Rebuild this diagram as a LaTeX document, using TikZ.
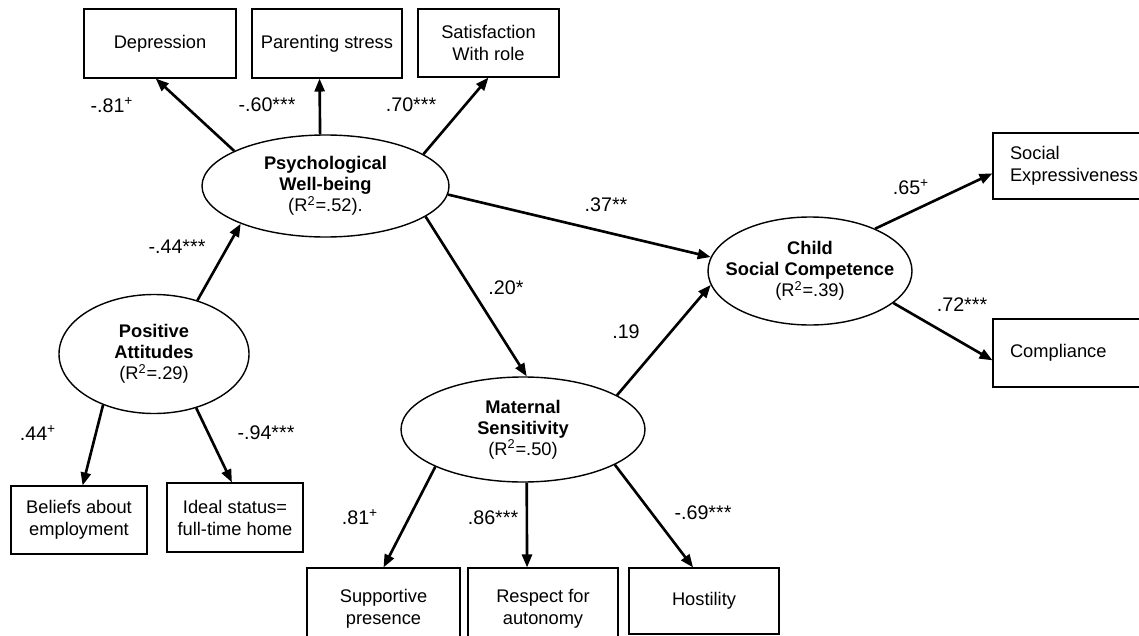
\documentclass[tikz,border=0pt]{standalone}
\usepackage{fontspec}
\setmainfont{Liberation Sans}
\usepackage{tikz}
\usetikzlibrary{shapes.geometric, arrows.meta}

\tikzset{
	indicator/.style={draw, line width=0.6pt, rectangle, align=center, inner sep=0pt, font=\fontsize{10.4}{12.5}\selectfont},
	latent/.style={draw, line width=0.8pt, ellipse, align=center, inner ysep=0pt, inner xsep=-4mm, font=\fontsize{10.4}{12}\selectfont},
	loading/.style={inner sep=0pt, font=\fontsize{11.2}{13}\selectfont},
	effect/.style={line width=1.5pt, -{Triangle[length=2.6mm, width=2mm]}}
}

\begin{document}
\begin{tikzpicture}[x=0.2mm, y=-0.2mm]
	\path[use as bounding box, clip] (0, 0) rectangle (1139, 636);
	% Latent variables:
	\node[latent, minimum width=49.4mm, minimum height=20.4mm] (psy) at (325.5, 186){\textbf{Psychological}\\\textbf{Well-being}\\(R\textsuperscript{2}=.52).};
	\node[latent, minimum width=38mm, minimum height=23.8mm] (pos) at (154, 354){\textbf{Positive}\\\textbf{Attitudes}\\(R\textsuperscript{2}=.29)};
	\node[latent, minimum width=48.8mm, minimum height=21mm] (mat) at (523, 429.5){\textbf{Maternal}\\\textbf{Sensitivity}\\(R\textsuperscript{2}=.50)};
	\node[latent, minimum width=40.8mm, minimum height=21.6mm] (chi) at (810, 271){\textbf{Child}\\\textbf{Social Competence}\\(R\textsuperscript{2}=.39)};
	% Indicators:
	\node[indicator, minimum width=30.4mm, minimum height=13.8mm] (dep) at (160, 43.5){Depression};
	\node[indicator, minimum width=30mm, minimum height=13.8mm] (par) at (327, 43.5){Parenting stress};
	\node[indicator, minimum width=28.2mm, minimum height=13.6mm] (sat) at (488.5, 43){Satisfaction\\With role};
	\node[indicator, minimum width=27.2mm, minimum height=13.6mm] (bel) at (79, 520){Beliefs about\\employment};
	\node[indicator, minimum width=27.2mm, minimum height=13.8mm] (ide) at (235, 517.5){Ideal status=\\full-time home};
	\node[indicator, minimum width=30.6mm, minimum height=16.4mm] (sup) at (383.5, 609){Supportive\\presence};
	\node[indicator, minimum width=30mm, minimum height=16.4mm] (res) at (543, 609){Respect for\\autonomy};
	\node[indicator, minimum width=30mm, minimum height=13.2mm] (hos) at (704, 601){Hostility};
	\node[indicator, text width=26.6mm, inner xsep=3.4mm, align=left, minimum height=13.2mm] (soc) at (1076.5, 166){Social\\Expressiveness};
	\node[indicator, text width=26.6mm, inner xsep=3.4mm, align=left, minimum height=13.6mm] (com) at (1076.5, 353){Compliance};
	% Paths:
	\draw[effect] (psy.159.5) -- (dep.263);
	\draw[effect] (psy.96) -- (par.258);
	\draw[effect] (psy.18.7) -- (sat.south);
	\draw[effect] (pos.51) -- (psy.204);
	\draw[effect] (pos.225) -- (bel.84);
	\draw[effect] (pos.308) -- (ide.95);
	\draw[effect] (psy.-4.3) -- (chi.172);
	\draw[effect] (psy.-17.6) -- (mat.86);
	\draw[effect] (mat.20) -- (chi.188);
	\draw[effect] (mat.203) -- (sup.north);
	\draw[effect] (mat.274) -- (res.111);
	\draw[effect] (mat.339) -- (hos.108);
	\draw[effect] (chi.33) -- (soc.185);
	\draw[effect] (chi.339) -- (com.185);
	% Path coefficients:
	\node[loading] (l-dep) at (112, 105){-.81\textsuperscript{+}};
	\node[loading] (l-par) at (267, 105){-.60***};
	\node[loading] (l-sat) at (411, 105){.70***};
	\node[loading] (l-pos) at (177, 247){-.44***};
	\node[loading] (l-bel) at (38, 433){.44\textsuperscript{+}};
	\node[loading] (l-ide) at (266, 433){-.94***};
	\node[loading] (l-psychi) at (606, 205){.37**};
	\node[loading] (l-psymat) at (506, 288){.20*};
	\node[loading] (l-matchi) at (626, 332){.19};
	\node[loading] (l-sup) at (360, 517){.81\textsuperscript{+}};
	\node[loading] (l-res) at (493, 518){.86***};
	\node[loading] (l-hos) at (703, 513){-.69***};
	\node[loading] (l-soc) at (911, 187){.65\textsuperscript{+}};
	\node[loading] (l-com) at (962, 305){.72***};
\end{tikzpicture}
\end{document}
